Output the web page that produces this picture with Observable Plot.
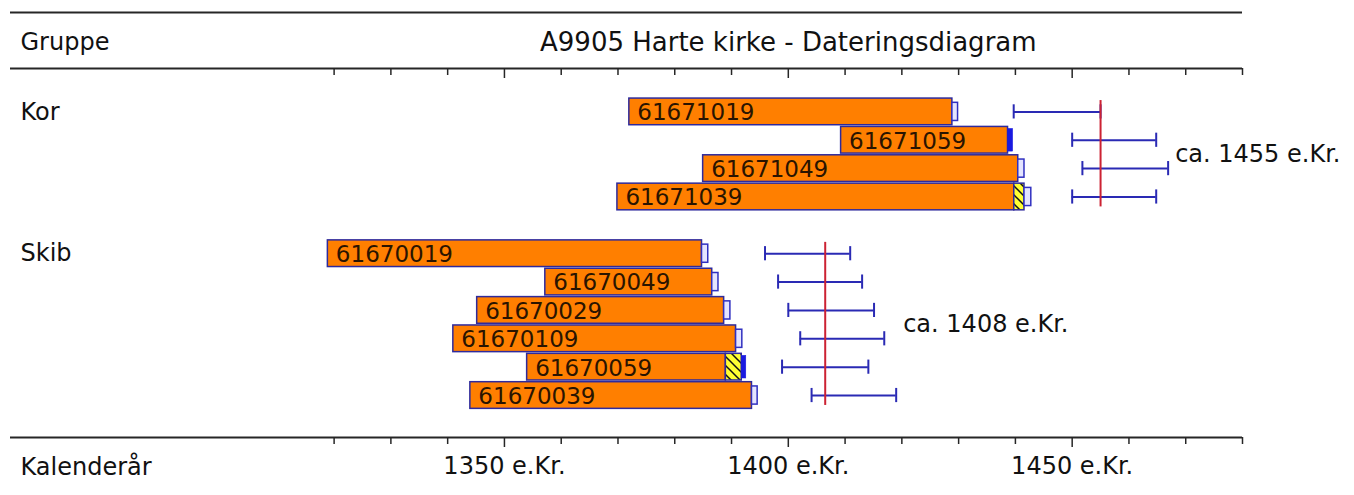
<!DOCTYPE html>
<html>
<head>
<meta charset="utf-8">
<script src="https://cdn.jsdelivr.net/npm/d3@7"></script>
<script src="https://cdn.jsdelivr.net/npm/@observablehq/plot@0.6"></script>
<style>
  html, body { margin: 0; padding: 0; background: #fff; }
</style>
</head>
<body>
<div id="chart"></div>
<script>
// ---------- data ----------
const chartTitle = "A9905 Harte kirke - Dateringsdiagram";
const groupHeader = "Gruppe";
const axisHeader = "Kalenderår";

const groups = ["Kor", "Skib"];
const groupDate = [1455, 1406.5];
const groupDateLabel = ["ca. 1455 e.Kr.", "ca. 1408 e.Kr."];

const samples     = ["61671019", "61671059", "61671049", "61671039", "61670019", "61670049", "61670029", "61670109", "61670059", "61670039"];
const sampleGroup = ["Kor", "Kor", "Kor", "Kor", "Skib", "Skib", "Skib", "Skib", "Skib", "Skib"];
const firstRing   = [1372, 1409.3, 1385, 1369.9, 1318.9, 1357.2, 1345.2, 1341, 1354, 1344];
const heartEnd    = [1428.9, 1438.7, 1440.5, 1439.8, 1384.8, 1386.6, 1388.7, 1390.8, 1389, 1393.6];
const sapEnd      = [null, null, null, 1441.6, null, null, null, null, 1391.8, null];
const lastEnd     = [1429.9, 1439.6, 1441.6, 1442.8, 1385.9, 1387.7, 1389.8, 1391.9, 1392.6, 1394.6];
const lastKind    = ["open", "solid", "open", "open", "open", "open", "open", "open", "solid", "open"];
const estLow      = [1439.7, 1450, 1451.8, 1450, 1395.9, 1398.2, 1400, 1402.1, 1398.9, 1404.1];
const estHigh     = [1455, 1464.8, 1466.9, 1464.8, 1410.9, 1413, 1415.1, 1416.9, 1414.1, 1419];

const tickYears  = [1320, 1330, 1340, 1350, 1360, 1370, 1380, 1390, 1400, 1410, 1420, 1430, 1440, 1450, 1460, 1470, 1480];
const labelYears = [1350, 1400, 1450];
const labelTexts = ["1350 e.Kr.", "1400 e.Kr.", "1450 e.Kr."];

// ---------- derived tables ----------
const rows = samples.map((id, i) => {
  const g = groups.indexOf(sampleGroup[i]);
  return {
    id, group: sampleGroup[i], row: i + g,
    first: firstRing[i], heart: heartEnd[i], sap: sapEnd[i],
    lastStart: sapEnd[i] ?? heartEnd[i], last: lastEnd[i], kind: lastKind[i],
    lo: estLow[i], hi: estHigh[i]
  };
});
const groupRows = groups.map((g, k) => {
  const rs = rows.filter(r => r.group === g);
  return {
    group: g, date: groupDate[k], label: groupDateLabel[k],
    first: d3.min(rs, r => r.row), last: d3.max(rs, r => r.row),
    mid: d3.mean(rs, r => r.row), maxHi: d3.max(rs, r => r.hi)
  };
});
const caps = rows.flatMap(r => [{x: r.lo, row: r.row}, {x: r.hi, row: r.row}]);
const minorTicks = tickYears.filter(t => !labelYears.includes(t));

// ---------- layout ----------
const W = 1354, H = 495;
const mTop = 68, mBottom = 58, mLeft = 10, mRight = 112;
const frameH = H - mTop - mBottom;
const yDomain = [-1.53, 11.48];
const ink = "#262626";
const blue = "#2a2ab4";
const hatchFill = "url(#sapHatch)";
const headFont = "DejaVu Sans";

const plot = Plot.plot({
  width: W, height: H,
  marginTop: mTop, marginBottom: mBottom, marginLeft: mLeft, marginRight: mRight,
  style: {fontFamily: headFont, fontSize: "24px", background: "#fff", color: "#111"},
  x: {domain: [1263, 1480], label: null},
  y: {domain: yDomain, reverse: true, axis: null},
  marks: [
    // frame lines
    Plot.ruleY([yDomain[0]], {dy: -56, stroke: ink, strokeWidth: 2}),
    Plot.ruleY([yDomain[0]], {stroke: ink, strokeWidth: 2}),
    Plot.ruleY([yDomain[1]], {stroke: ink, strokeWidth: 2}),
    // bottom ticks + labels
    Plot.axisX(minorTicks, {anchor: "bottom", tickSize: 7, tickFormat: () => "", label: null, stroke: ink, strokeWidth: 1.5}),
    Plot.axisX(labelYears, {anchor: "bottom", tickSize: 10, tickPadding: 9, label: null, stroke: ink, strokeWidth: 1.5,
      tickFormat: d => labelTexts[labelYears.indexOf(d)], fontSize: 24}),
    // top ticks (pointing down from the header line)
    Plot.axisX(minorTicks, {anchor: "bottom", dy: -frameH, tickSize: 7, tickFormat: () => "", label: null, stroke: ink, strokeWidth: 1.5}),
    Plot.axisX(labelYears, {anchor: "bottom", dy: -frameH, tickSize: 10, tickFormat: () => "", label: null, stroke: ink, strokeWidth: 1.5}),
    // header texts
    Plot.text([groupHeader], {frameAnchor: "top-left", lineAnchor: "middle", text: d => d, dx: 10, dy: -26, textAnchor: "start", fontSize: 24, fill: "#111"}),
    Plot.text([chartTitle], {x: () => d3.mean([tickYears[0], tickYears[tickYears.length - 1]]), frameAnchor: "top", lineAnchor: "middle", text: d => d, dy: -26, fontSize: 26, fill: "#111"}),
    Plot.text([axisHeader], {frameAnchor: "bottom-left", lineAnchor: "middle", text: d => d, dx: 10, dy: 30, textAnchor: "start", fontSize: 24, fill: "#111"}),
    // group names
    Plot.text(groupRows, {frameAnchor: "left", y: "first", text: "group", dx: 10, textAnchor: "start", fontSize: 24, fill: "#111"}),
    // sample bars
    Plot.rect(rows, {x1: "first", x2: "heart", y1: d => d.row - 0.47, y2: d => d.row + 0.47, fill: "#ff7f00", stroke: "#2e2a9c", strokeWidth: 1.5}),
    Plot.rect(rows.filter(r => r.sap != null), {x1: "heart", x2: "sap", y1: d => d.row - 0.47, y2: d => d.row + 0.47, fill: hatchFill, stroke: "#2e2a9c", strokeWidth: 1.5}),
    Plot.rect(rows.filter(r => r.kind === "open"), {x1: "lastStart", x2: "last", y1: d => d.row - 0.32, y2: d => d.row + 0.32, fill: "#e4e4ff", stroke: "#3030c0", strokeWidth: 1.5}),
    Plot.rect(rows.filter(r => r.kind === "solid"), {x1: "lastStart", x2: "last", y1: d => d.row - 0.4, y2: d => d.row + 0.4, fill: "#1a1ae0", stroke: "#1a1ae0", strokeWidth: 0.5}),
    Plot.text(rows, {x: "first", y: "row", text: "id", dx: 8, dy: 1, textAnchor: "start", fontSize: 23, fill: "#2a1400", fontFamily: "DejaVu Sans"}),
    // date estimates
    Plot.ruleY(rows, {y: "row", x1: "lo", x2: "hi", stroke: blue, strokeWidth: 2}),
    Plot.ruleX(caps, {x: "x", y1: d => d.row - 0.25, y2: d => d.row + 0.25, stroke: blue, strokeWidth: 2}),
    Plot.ruleX(groupRows, {x: "date", y1: d => d.first - 0.4, y2: d => d.last + 0.35, stroke: "#cc2233", strokeWidth: 2}),
    Plot.text(groupRows, {x: "maxHi", y: "mid", text: "label", dx: 7, textAnchor: "start", fontSize: 24, fill: "#111"})
  ]
});

// hatch pattern for the sapwood boxes
const ns = "http://www.w3.org/2000/svg";
const defs = document.createElementNS(ns, "defs");
defs.innerHTML = `<pattern id="sapHatch" patternUnits="userSpaceOnUse" width="9" height="9">
  <rect width="9" height="9" fill="#ffff33"/>
  <path d="M0,0 L9,9 M-2,7 L2,11 M7,-2 L11,2" stroke="#111" stroke-width="1.5"/>
</pattern>`;
plot.insertBefore(defs, plot.firstChild);

document.getElementById("chart").appendChild(plot);
</script>
</body>
</html>
